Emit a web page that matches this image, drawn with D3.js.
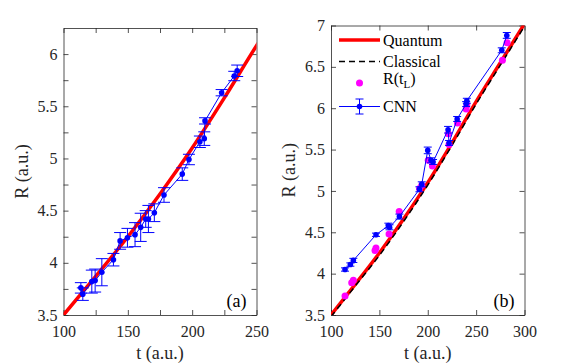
<!DOCTYPE html>
<html>
<head>
<meta charset="utf-8">
<script src="https://cdn.jsdelivr.net/npm/d3@7"></script>
<style>
  body { margin: 0; background: #fff; }
  svg { display: block; }
</style>
</head>
<body>
<div id="graph"></div>
<script>
// theory curves
const theoryT = [100, 125, 150, 175, 200, 225, 250, 275, 300];
const quantumR = [3.5, 3.87, 4.25, 4.66, 5.1, 5.58, 6.08, 6.55, 7.02];
const classicalR = [3.48, 3.85, 4.22, 4.63, 5.07, 5.55, 6.05, 6.52, 6.99];

// panel (a) CNN predictions
const cnnAT = [113.5, 115, 122, 124.6, 129.8, 138.8, 144, 149.7, 155.6, 160, 163.9, 166, 170.6, 178.1, 192.3, 197.5, 206, 209.4, 210, 222.9, 232.7, 235];
const cnnAR = [3.76, 3.70, 3.82, 3.83, 3.91, 4.03, 4.21, 4.24, 4.27, 4.34, 4.42, 4.42, 4.48, 4.65, 4.85, 4.99, 5.16, 5.19, 5.36, 5.63, 5.79, 5.84];
const cnnAErr = [0.05, 0.06, 0.11, 0.11, 0.13, 0.06, 0.08, 0.09, 0.115, 0.135, 0.08, 0.13, 0.085, 0.07, 0.06, 0.05, 0.055, 0.065, 0.03, 0.03, 0.045, 0.055];

// panel (b) CNN predictions
const cnnBT = [114.5, 120, 123.1, 146.5, 159.3, 160.5, 170.7, 191.4, 193.8, 200, 203.4, 205.5, 221, 222, 230.4, 239.7, 240.4, 276.5, 281.7];
const cnnBR = [4.05, 4.11, 4.16, 4.47, 4.58, 4.56, 4.69, 5.02, 5.08, 5.49, 5.37, 5.35, 5.74, 5.58, 5.87, 6.05, 6.09, 6.70, 6.88];
const cnnBErr = [0.02, 0.02, 0.025, 0.02, 0.03, 0.03, 0.03, 0.03, 0.03, 0.04, 0.03, 0.03, 0.04, 0.03, 0.03, 0.03, 0.03, 0.03, 0.035];

// panel (b) R(t_L)
const rtlT = [114.5, 121.4, 123.1, 145.5, 146.5, 160, 170.5, 191.5, 193.8, 200.5, 204.8, 221.3, 222, 230.7, 239.7, 240.4, 277.2, 282];
const rtlR = [3.73, 3.89, 3.92, 4.28, 4.31, 4.48, 4.75, 5.03, 5.07, 5.37, 5.30, 5.69, 5.56, 5.82, 5.99, 6.04, 6.58, 6.79];

// ticks
const xTicksA = [100, 125, 150, 175, 200, 225, 250];
const xLabelsA = [100, 150, 200, 250];
const yTicksA = [3.5, 3.75, 4, 4.25, 4.5, 4.75, 5, 5.25, 5.5, 5.75, 6];
const yLabelsA = [3.5, 4, 4.5, 5, 5.5, 6];
const xTicksB = [100, 150, 200, 250, 300];
const yTicksB = [3.5, 4, 4.5, 5, 5.5, 6, 6.5, 7];

const W = 581, H = 363;
const axisColor = "#262626";
const serif = "'Liberation Serif', 'Times New Roman', Times, 'DejaVu Serif', serif";

const svg = d3.select("#graph").append("svg")
    .attr("width", W)
    .attr("height", H)
    .style("font-family", serif);
svg.append("rect").attr("width", W).attr("height", H).attr("fill", "#fff");

const theory = theoryT.map((t, i) => ({t: t, q: quantumR[i], c: classicalR[i]}));

function panel(opt) {
  const x = d3.scaleLinear().domain(opt.xDomain).range([opt.left, opt.right]);
  const y = d3.scaleLinear().domain(opt.yDomain).range([opt.bottom, opt.top]);
  const g = svg.append("g");

  const clipId = "clip-" + opt.name;
  g.append("clipPath").attr("id", clipId)
    .append("rect")
    .attr("x", opt.left).attr("y", opt.top)
    .attr("width", opt.right - opt.left).attr("height", opt.bottom - opt.top);

  const fmtX = d => opt.xLabels.includes(d) ? String(d) : "";
  const fmtY = d => opt.yLabels.includes(d) ? String(d) : "";

  const styleAxis = sel => {
    sel.attr("font-family", null).attr("font-size", null);
    sel.select(".domain").attr("stroke", axisColor).attr("stroke-width", 0.8);
    sel.selectAll(".tick line").attr("stroke", axisColor).attr("stroke-width", 0.8);
    sel.selectAll(".tick text").attr("fill", axisColor)
      .style("font-family", serif).style("font-size", "16px");
  };

  g.append("g").attr("transform", `translate(0,${opt.bottom})`)
    .call(d3.axisBottom(x).tickValues(opt.xTicks).tickSizeInner(-5).tickSizeOuter(0).tickPadding(11).tickFormat(fmtX))
    .call(styleAxis);
  g.append("g").attr("transform", `translate(0,${opt.top})`)
    .call(d3.axisTop(x).tickValues(opt.xTicks).tickSizeInner(-5).tickSizeOuter(0).tickFormat(""))
    .call(styleAxis);
  g.append("g").attr("transform", `translate(${opt.left},0)`)
    .call(d3.axisLeft(y).tickValues(opt.yTicks).tickSizeInner(-5).tickSizeOuter(0).tickPadding(6).tickFormat(fmtY))
    .call(styleAxis);
  g.append("g").attr("transform", `translate(${opt.right},0)`)
    .call(d3.axisRight(y).tickValues(opt.yTicks).tickSizeInner(-5).tickSizeOuter(0).tickFormat(""))
    .call(styleAxis);

  const plot = g.append("g").attr("clip-path", `url(#${clipId})`);

  plot.append("path")
    .datum(theory)
    .attr("fill", "none")
    .attr("stroke", "#ff0000")
    .attr("stroke-width", 3.5)
    .attr("d", d3.line().curve(d3.curveMonotoneX).x(d => x(d.t)).y(d => y(d.q)));

  if (opt.classical) {
    plot.append("path")
      .datum(theory)
      .attr("fill", "none")
      .attr("stroke", "#000")
      .attr("stroke-width", 1.5)
      .attr("stroke-dasharray", "6,4")
      .attr("d", d3.line().curve(d3.curveMonotoneX).x(d => x(d.t)).y(d => y(d.c)));
  }

  if (opt.rtl) {
    plot.selectAll("circle.rtl")
      .data(opt.rtl)
      .enter().append("circle")
      .attr("class", "rtl")
      .attr("cx", d => x(d.t))
      .attr("cy", d => y(d.r))
      .attr("r", 3.5)
      .attr("fill", "#ff00ff");
  }

  const cnn = opt.cnn;
  plot.append("path")
    .datum(cnn)
    .attr("fill", "none")
    .attr("stroke", "#0000ff")
    .attr("stroke-width", 1)
    .attr("d", d3.line().x(d => x(d.t)).y(d => y(d.r)));

  const eb = plot.selectAll("g.eb").data(cnn).enter().append("g").attr("class", "eb")
    .attr("stroke", "#0000ff").attr("stroke-width", 1);
  eb.append("line")
    .attr("x1", d => x(d.t)).attr("x2", d => x(d.t))
    .attr("y1", d => y(d.r - d.e)).attr("y2", d => y(d.r + d.e));
  eb.append("line")
    .attr("x1", d => x(d.t) - opt.cap).attr("x2", d => x(d.t) + opt.cap)
    .attr("y1", d => y(d.r - d.e)).attr("y2", d => y(d.r - d.e));
  eb.append("line")
    .attr("x1", d => x(d.t) - opt.cap).attr("x2", d => x(d.t) + opt.cap)
    .attr("y1", d => y(d.r + d.e)).attr("y2", d => y(d.r + d.e));

  plot.selectAll("circle.cnn")
    .data(cnn)
    .enter().append("circle")
    .attr("class", "cnn")
    .attr("cx", d => x(d.t))
    .attr("cy", d => y(d.r))
    .attr("r", 2.8)
    .attr("fill", "#0000ff");

  // axis titles
  g.append("text")
    .attr("x", (opt.left + opt.right) / 2)
    .attr("y", 358.5)
    .attr("text-anchor", "middle")
    .attr("fill", axisColor)
    .style("font-size", "18px")
    .text("t (a.u.)");
  g.append("text")
    .attr("transform", `translate(${opt.left - 36},${(opt.top + opt.bottom) / 2}) rotate(-90)`)
    .attr("text-anchor", "middle")
    .attr("fill", axisColor)
    .style("font-size", "18px")
    .text("R (a.u.)");

  g.append("text")
    .attr("x", opt.right - 10)
    .attr("y", opt.bottom - 8)
    .attr("text-anchor", "end")
    .attr("fill", "#000")
    .style("font-size", "18px")
    .text(opt.tag);

  return {x: x, y: y};
}

panel({
  name: "a", tag: "(a)",
  left: 63.5, right: 256.5, top: 28, bottom: 315,
  xDomain: [100, 250], yDomain: [3.5, 6.25],
  xTicks: xTicksA, xLabels: xLabelsA, yTicks: yTicksA, yLabels: yLabelsA,
  cap: 6,
  cnn: cnnAT.map((t, i) => ({t: t, r: cnnAR[i], e: cnnAErr[i]}))
});

panel({
  name: "b", tag: "(b)",
  left: 331, right: 524.5, top: 25.5, bottom: 315,
  xDomain: [100, 300], yDomain: [3.5, 7],
  xTicks: xTicksB, xLabels: xTicksB, yTicks: yTicksB, yLabels: yTicksB,
  cap: 4,
  classical: true,
  rtl: rtlT.map((t, i) => ({t: t, r: rtlR[i]})),
  cnn: cnnBT.map((t, i) => ({t: t, r: cnnBR[i], e: cnnBErr[i]}))
});

// legend of panel (b)
const leg = svg.append("g");
const legX0 = 339, legX1 = 380, legText = 383;
const legRows = [40, 61.5, 83, 106.5];

leg.append("line").attr("x1", legX0).attr("x2", legX1).attr("y1", legRows[0]).attr("y2", legRows[0])
  .attr("stroke", "#ff0000").attr("stroke-width", 3.5);
leg.append("line").attr("x1", legX0).attr("x2", legX1).attr("y1", legRows[1]).attr("y2", legRows[1])
  .attr("stroke", "#000").attr("stroke-width", 1.5).attr("stroke-dasharray", "6,4");
leg.append("circle").attr("cx", (legX0 + legX1) / 2).attr("cy", legRows[2]).attr("r", 3.5).attr("fill", "#ff00ff");
leg.append("line").attr("x1", legX0).attr("x2", legX1).attr("y1", legRows[3]).attr("y2", legRows[3])
  .attr("stroke", "#0000ff").attr("stroke-width", 1);
const mx = (legX0 + legX1) / 2;
leg.append("line").attr("x1", mx).attr("x2", mx).attr("y1", legRows[3] - 7.5).attr("y2", legRows[3] + 7.5)
  .attr("stroke", "#0000ff");
leg.append("line").attr("x1", mx - 4).attr("x2", mx + 4).attr("y1", legRows[3] - 7.5).attr("y2", legRows[3] - 7.5)
  .attr("stroke", "#0000ff");
leg.append("line").attr("x1", mx - 4).attr("x2", mx + 4).attr("y1", legRows[3] + 7.5).attr("y2", legRows[3] + 7.5)
  .attr("stroke", "#0000ff");
leg.append("circle").attr("cx", mx).attr("cy", legRows[3]).attr("r", 2.8).attr("fill", "#0000ff");

const legFont = "16px";
leg.append("text").attr("x", legText).attr("y", legRows[0] + 5.5).style("font-size", legFont).text("Quantum");
leg.append("text").attr("x", legText).attr("y", legRows[1] + 5.5).style("font-size", legFont).text("Classical");
const rt = leg.append("text").attr("x", legText).attr("y", legRows[2] + 1).style("font-size", legFont);
rt.append("tspan").text("R(t");
rt.append("tspan").attr("dy", 4).style("font-size", "11px").text("L");
rt.append("tspan").attr("dy", -4).text(")");
leg.append("text").attr("x", legText).attr("y", legRows[3] + 5.5).style("font-size", legFont).text("CNN");
</script>
</body>
</html>
